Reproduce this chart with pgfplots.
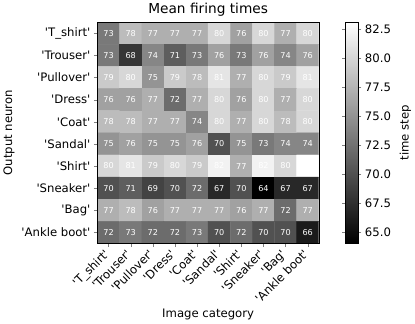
\documentclass[border=0pt]{standalone}
\usepackage{pgfplots}
\pgfplotsset{compat=1.18}
\usepackage{fontspec}
\setmainfont{DejaVu Sans}[Ligatures=TeXOff]
\begin{document}
\begin{tikzpicture}
\begin{axis}[
    width=218pt, height=218pt, scale only axis,
    xmin=-0.5, xmax=9.5, ymin=-0.5, ymax=9.5,
    enlargelimits=false,
    axis on top,
    font=\fontsize{11.5}{13}\selectfont,
    /pgf/number format/assume math mode=true,
    title={Mean firing times},
    title style={font=\fontsize{13.5}{15}\selectfont, yshift=-4pt},
    xlabel={Image category},
    ylabel={Output neuron},
    xtick={0,...,9}, ytick={0,...,9},
    xticklabels={'T\_shirt','Trouser','Pullover','Dress','Coat','Sandal','Shirt','Sneaker','Bag','Ankle boot'},
    yticklabels={'Ankle boot','Bag','Sneaker','Shirt','Sandal','Coat','Dress','Pullover','Trouser','T\_shirt'},
    xticklabel style={xshift=-5pt, rotate=45, anchor=north east, inner sep=1pt},
    tick align=outside, tick pos=left,
    major tick length=3.5pt,
    colormap/blackwhite,
    point meta min=64.0, point meta max=83.1,
    colorbar,
    colorbar style={
        at={(parent axis.north east)}, anchor=north west, xshift=18pt,
        width=12pt, height=218pt,
        font=\fontsize{11.5}{13}\selectfont,
        ytick={65,67.5,...,82.5},
        yticklabel style={font=\fontsize{11.5}{13}\selectfont, /pgf/number format/.cd, fixed, fixed zerofill, precision=1, assume math mode=true},
        yticklabel pos=right,
        tick align=outside,
        major tick length=3.5pt,
        after end axis/.code={
            \node[rotate=90, anchor=north, inner sep=0pt, font=\fontsize{11.5}{13}\selectfont] at ([xshift=41pt]rel axis cs:1,0.5) {time step};
        },
    },
    nodes near coords={\pgfmathprintnumber[fixed,precision=0]{\pgfplotspointmeta}},
    nodes near coords style={font=\fontsize{8}{9}\selectfont, text=white, anchor=center},
]
\addplot[matrix plot*, mesh/cols=10, point meta=explicit] table[meta=c] {
x y c
0 9 73
1 9 78
2 9 77
3 9 77
4 9 77
5 9 80
6 9 76
7 9 80
8 9 77
9 9 80
0 8 73
1 8 68
2 8 74
3 8 71
4 8 73
5 8 76
6 8 73
7 8 76
8 8 74
9 8 76
0 7 79
1 7 80
2 7 75
3 7 79
4 7 78
5 7 81
6 7 77
7 7 80
8 7 79
9 7 81
0 6 76
1 6 76
2 6 77
3 6 72
4 6 77
5 6 80
6 6 76
7 6 80
8 6 77
9 6 80
0 5 78
1 5 78
2 5 77
3 5 77
4 5 74
5 5 80
6 5 77
7 5 80
8 5 78
9 5 80
0 4 75
1 4 76
2 4 75
3 4 75
4 4 76
5 4 70
6 4 75
7 4 73
8 4 74
9 4 74
0 3 80
1 3 81
2 3 79
3 3 80
4 3 79
5 3 82
6 3 77
7 3 82
8 3 80
9 3 83
0 2 70
1 2 71
2 2 69
3 2 70
4 2 72
5 2 67
6 2 70
7 2 64
8 2 67
9 2 67
0 1 77
1 1 78
2 1 76
3 1 77
4 1 77
5 1 77
6 1 76
7 1 77
8 1 72
9 1 77
0 0 72
1 0 73
2 0 72
3 0 72
4 0 73
5 0 70
6 0 72
7 0 70
8 0 70
9 0 66
};
\end{axis}
\path ([xshift=4pt]current bounding box.east);
\end{tikzpicture}
\end{document}
